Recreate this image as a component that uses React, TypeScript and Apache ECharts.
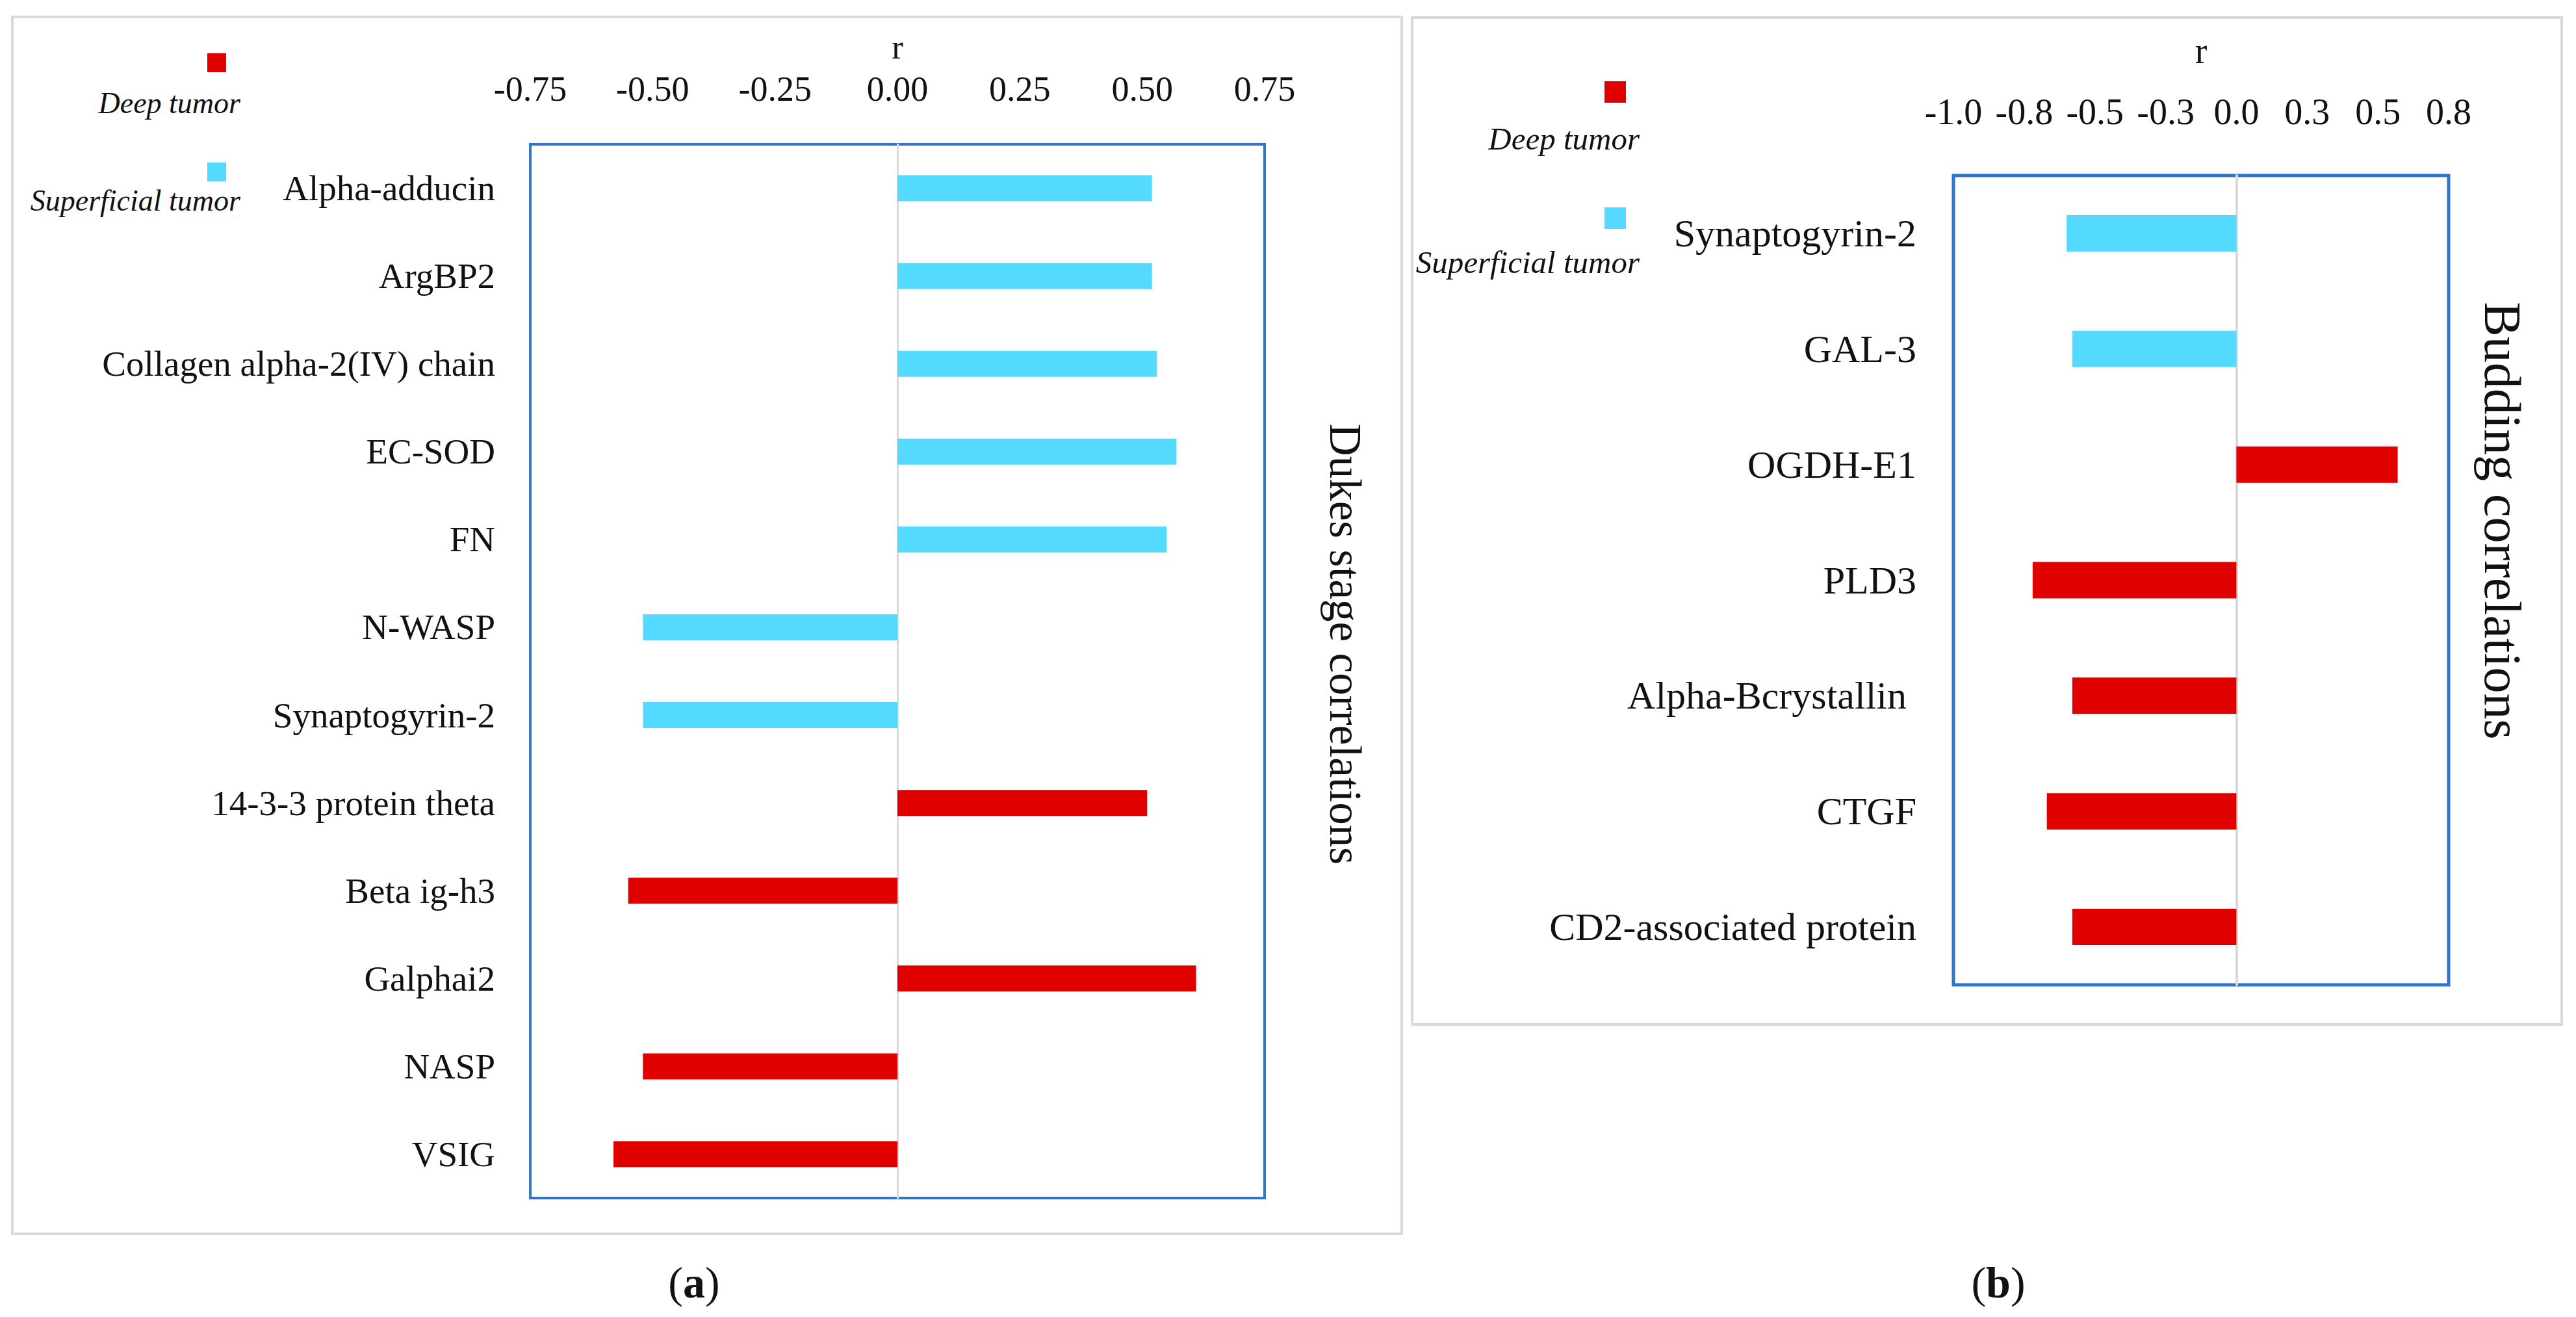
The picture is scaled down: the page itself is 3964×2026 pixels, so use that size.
import React, { useEffect, useRef } from "react";
import * as echarts from "echarts";

const leftCategories = [
  "Alpha-adducin",
  "ArgBP2",
  "Collagen alpha-2(IV) chain",
  "EC-SOD",
  "FN",
  "N-WASP",
  "Synaptogyrin-2",
  "14-3-3 protein theta",
  "Beta ig-h3",
  "Galphai2",
  "NASP",
  "VSIG",
];
const leftValues = [0.52, 0.52, 0.53, 0.57, 0.55, -0.52, -0.52, 0.51, -0.55, 0.61, -0.52, -0.58];
const leftGroups = ["S", "S", "S", "S", "S", "S", "S", "D", "D", "D", "D", "D"];
const leftTicks = ["-0.75", "-0.50", "-0.25", "0.00", "0.25", "0.50", "0.75"];

const rightCategories = [
  "Synaptogyrin-2",
  "GAL-3",
  "OGDH-E1",
  "PLD3",
  "Alpha-Bcrystallin ",
  "CTGF",
  "CD2-associated protein",
];
const rightValues = [-0.6, -0.58, 0.57, -0.72, -0.58, -0.67, -0.58];
const rightGroups = ["S", "S", "D", "D", "D", "D", "D"];
const rightTicks = ["-1.0", "-0.8", "-0.5", "-0.3", "0.0", "0.3", "0.5", "0.8"];

const seriesNames = { D: "Deep tumor", S: "Superficial tumor" };
const colors = { D: "#E00000", S: "#55DAFF" };

const FONT = "Liberation Serif";
const BLUE = "#2E75CB";
const GRAY = "#D9D9D9";

function pick(values: number[], groups: string[], g: string) {
  return values.map((v, i) => (groups[i] === g ? v : null));
}

export default function App() {
  const ref = useRef<HTMLDivElement>(null);
  useEffect(() => {
    if (!ref.current) return;
    const chart = echarts.init(ref.current, null, { renderer: "svg" });

    const mkSeries = (gridIdx: number, values: number[], groups: string[], barWidth: number) =>
      (["S", "D"] as const).map((g) => ({
        type: "bar",
        name: seriesNames[g],
        xAxisIndex: gridIdx,
        yAxisIndex: gridIdx,
        data: pick(values, groups, g),
        barWidth,
        barGap: "-100%",
        itemStyle: { color: colors[g] },
      }));

    const legend = (sqX: number, sqY1: number, sqY2: number, sq: number, txtRight: number, tY1: number, tY2: number, fs: number) => [
      { type: "rect", shape: { x: sqX, y: sqY1, width: sq, height: sq }, style: { fill: colors.D } },
      {
        type: "text",
        x: txtRight,
        y: tY1,
        style: { text: seriesNames.D, font: `italic ${fs}px "${FONT}"`, fill: "#111", align: "right", verticalAlign: "middle" },
      },
      { type: "rect", shape: { x: sqX, y: sqY2, width: sq, height: sq }, style: { fill: colors.S } },
      {
        type: "text",
        x: txtRight,
        y: tY2,
        style: { text: seriesNames.S, font: `italic ${fs}px "${FONT}"`, fill: "#111", align: "right", verticalAlign: "middle" },
      },
    ];

    const option: any = {
      animation: false,
      backgroundColor: "#ffffff",
      textStyle: { fontFamily: FONT },
      grid: [
        { left: 816, top: 222, width: 1130, height: 1621, show: true, borderColor: BLUE, borderWidth: 4, backgroundColor: "transparent" },
        { left: 3006, top: 270, width: 762, height: 1245, show: true, borderColor: BLUE, borderWidth: 5, backgroundColor: "transparent" },
      ],
      xAxis: [
        {
          type: "value",
          gridIndex: 0,
          position: "top",
          min: -0.75,
          max: 0.75,
          interval: 0.25,
          name: "r",
          nameLocation: "middle",
          nameGap: 150,
          nameTextStyle: { fontFamily: FONT, fontSize: 53, color: "#111", verticalAlign: "middle" },
          axisLine: { show: false },
          axisTick: { show: false },
          splitLine: { show: false },
          axisLabel: {
            fontFamily: FONT,
            fontSize: 54,
            color: "#111",
            margin: 58,
            formatter: (v: number) => leftTicks[Math.round((v + 0.75) / 0.25)],
          },
        },
        {
          type: "value",
          gridIndex: 1,
          position: "top",
          min: -1,
          max: 0.75,
          interval: 0.25,
          name: "r",
          nameLocation: "middle",
          nameGap: 192,
          nameTextStyle: { fontFamily: FONT, fontSize: 56, color: "#111", verticalAlign: "middle" },
          axisLine: { show: false },
          axisTick: { show: false },
          splitLine: { show: false },
          axisLabel: {
            fontFamily: FONT,
            fontSize: 56,
            color: "#111",
            margin: 70,
            formatter: (v: number) => rightTicks[Math.round((v + 1) / 0.25)],
          },
        },
      ],
      yAxis: [
        {
          type: "category",
          gridIndex: 0,
          data: leftCategories,
          inverse: true,
          axisLine: { show: true, onZero: true, lineStyle: { color: GRAY, width: 3 } },
          axisTick: { show: false },
          splitLine: { show: false },
          axisLabel: { fontFamily: FONT, fontSize: 55, color: "#111", margin: 54 },
        },
        {
          type: "category",
          gridIndex: 1,
          data: rightCategories,
          inverse: true,
          axisLine: { show: true, onZero: true, lineStyle: { color: GRAY, width: 4 } },
          axisTick: { show: false },
          splitLine: { show: false },
          axisLabel: { fontFamily: FONT, fontSize: 60, color: "#111", margin: 57 },
        },
      ],
      series: [...mkSeries(0, leftValues, leftGroups, 40), ...mkSeries(1, rightValues, rightGroups, 56)],
      graphic: [
        { type: "rect", silent: true, z: -10, shape: { x: 19, y: 26, width: 2138, height: 1872 }, style: { fill: "none", stroke: GRAY, lineWidth: 4 } },
        { type: "rect", silent: true, z: -10, shape: { x: 2173, y: 27, width: 1769, height: 1549 }, style: { fill: "none", stroke: GRAY, lineWidth: 4 } },
        ...legend(319, 82, 250, 29, 370, 158, 308, 46),
        ...legend(2469, 125, 319, 33, 2523, 213, 403, 49),
        {
          type: "text",
          x: 2070,
          y: 991,
          rotation: -Math.PI / 2,
          style: { text: "Dukes stage correlations", font: `69px "${FONT}"`, fill: "#111", align: "center", verticalAlign: "middle" },
        },
        {
          type: "text",
          x: 3851,
          y: 801,
          rotation: -Math.PI / 2,
          style: { text: "Budding correlations", font: `80px "${FONT}"`, fill: "#111", align: "center", verticalAlign: "middle" },
        },
        {
          type: "text",
          x: 1068,
          y: 1973,
          style: {
            text: "({b|a})",
            font: `68px "${FONT}"`,
            fill: "#111",
            align: "center",
            verticalAlign: "middle",
            rich: { b: { fontFamily: FONT, fontSize: 68, fontWeight: "bold", fill: "#111" } },
          },
        },
        {
          type: "text",
          x: 3075,
          y: 1973,
          style: {
            text: "({b|b})",
            font: `68px "${FONT}"`,
            fill: "#111",
            align: "center",
            verticalAlign: "middle",
            rich: { b: { fontFamily: FONT, fontSize: 68, fontWeight: "bold", fill: "#111" } },
          },
        },
      ],
    };

    chart.setOption(option);
    return () => chart.dispose();
  }, []);

  return (
    <div
      ref={ref}
      style={{ position: "absolute", left: 0, top: 0, width: 3964, height: 2026, background: "#fff" }}
    />
  );
}
